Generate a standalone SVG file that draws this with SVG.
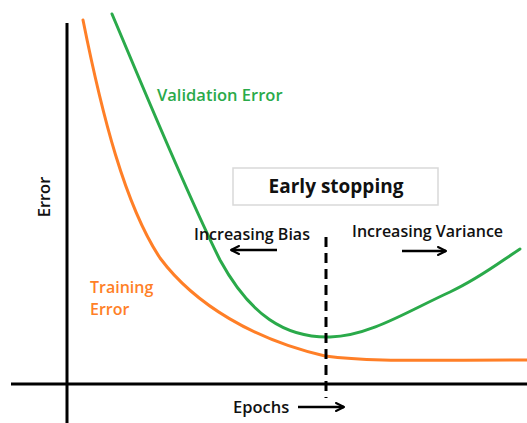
<svg xmlns="http://www.w3.org/2000/svg" width="527" height="423" viewBox="0 0 527 423">
  <style>
    .lbl { font-family: "Open Sans", "Liberation Sans", sans-serif; font-weight: 600; font-size: 16px; }
    .big { font-size: 16.5px; }
    .title { font-size: 19px; font-weight: 700; }
    .dark { fill: #111; }
    .green { fill: #2aaa4a; }
    .orange { fill: #ff7f27; }
    .axis { stroke: #000; stroke-width: 3; fill: none; }
    .curve { stroke-width: 3; fill: none; stroke-linecap: round; }
    .arrow { stroke: #000; stroke-width: 2.5; fill: none; }
  </style>
  <defs>
    <marker id="head" viewBox="0 0 10 10" refX="9" refY="5" markerWidth="4" markerHeight="4" orient="auto" markerUnits="strokeWidth">
      <path d="M1,1 L9,5 L1,9" fill="none" stroke="#000" stroke-width="2" stroke-linecap="round" stroke-linejoin="round"/>
    </marker>
  </defs>
  <rect width="527" height="423" fill="#fff"/>

  <!-- axes -->
  <g id="axes">
    <line class="axis" x1="67" y1="23" x2="67" y2="423"/>
    <line class="axis" x1="11" y1="384" x2="527" y2="384"/>
    <text class="lbl big dark" transform="translate(50,197) rotate(-90)" text-anchor="middle">Error</text>
    <text class="lbl big dark" x="233" y="413">Epochs</text>
  </g>

  <!-- error curves -->
  <g id="training-error">
    <path class="curve" stroke="#ff7f27" d="M83,20 C102,115 125,205 160,258 C195,305 255,340 325,356 C370,362 420,360 527,360"/>
    <text class="lbl orange" x="90" y="293">Training</text>
    <text class="lbl orange" x="90" y="315">Error</text>
  </g>
  <g id="validation-error">
    <path class="curve" stroke="#2aaa4a" d="M112,14 C140,80 185,190 220,260 C250,315 285,338 330,337 C370,336 410,310 450,292 C480,278 500,262 520,249"/>
    <text class="lbl big green" x="157" y="101">Validation Error</text>
  </g>

  <!-- early stopping marker -->
  <g id="early-stopping">
    <rect x="233" y="168" width="205" height="37" fill="#fff" stroke="#d9d9d9" stroke-width="1.5"/>
    <text class="lbl title dark" x="336" y="193" text-anchor="middle">Early stopping</text>
  </g>
  <g id="bias">
    <text class="lbl dark" x="194" y="240">Increasing Bias</text>
  </g>
  <g id="variance">
    <text class="lbl dark" x="352" y="237">Increasing Variance</text>
  </g>

  <!-- connectors -->
  <g id="connectors">
    <line x1="326" y1="237" x2="326" y2="398" stroke="#000" stroke-width="3" stroke-dasharray="10,6"/>
    <line class="arrow" x1="277" y1="250" x2="231" y2="250" marker-end="url(#head)"/>
    <line class="arrow" x1="402" y1="251" x2="446" y2="251" marker-end="url(#head)"/>
    <line class="arrow" x1="298" y1="407" x2="344" y2="407" marker-end="url(#head)"/>
  </g>
</svg>
